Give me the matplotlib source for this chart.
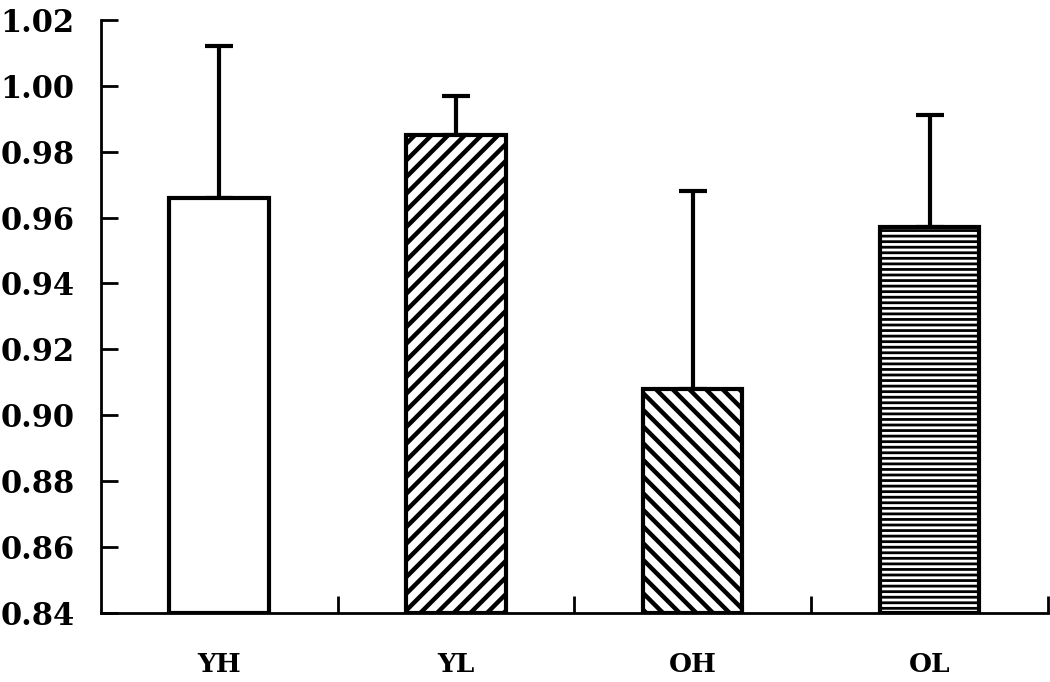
import numpy as np
import matplotlib
matplotlib.use("Agg")
import matplotlib.pyplot as plt

# values
groups = ["YH", "YL", "OH", "OL"]
means = [0.966, 0.985, 0.908, 0.957]
errors = [0.046, 0.012, 0.060, 0.034]
hatches = ["", "//", "\\\\", "---"]
hatch_widths = [1.0, 3.2, 3.2, 2.0]
yticks = [0.84, 0.86, 0.88, 0.90, 0.92, 0.94, 0.96, 0.98, 1.00, 1.02]

plt.rcParams["font.family"] = ["DejaVu Serif"]

fig = plt.figure(figsize=(10.5, 6.82), dpi=100)
ax = fig.add_axes([0.096, 0.101, 0.902, 0.870])

x = np.arange(len(groups))
for xi, m, e, h, hw in zip(x, means, errors, hatches, hatch_widths):
    with plt.rc_context({"hatch.linewidth": hw}):
        bars = ax.bar(xi, m - 0.84, bottom=0.84, width=0.42, color="white",
                      edgecolor="black", linewidth=3, hatch=h, zorder=2)
    for b in bars:
        if hasattr(b, "set_hatch_linewidth"):
            b.set_hatch_linewidth(hw)
    ax.errorbar(xi, m, yerr=[[0], [e]], fmt="none", ecolor="black",
                elinewidth=3, capsize=10, capthick=3, zorder=1)

ax.set_xlim(-0.5, 3.5)
ax.set_ylim(0.84, 1.02)
ax.spines["top"].set_visible(False)
ax.spines["right"].set_visible(False)
ax.spines["left"].set_linewidth(2)
ax.spines["bottom"].set_linewidth(2)

ax.set_yticks(yticks)
ax.set_yticklabels(["%.2f" % v for v in yticks], fontsize=22, fontweight="bold")
ax.tick_params(axis="y", direction="in", length=12, width=2, pad=19)

ax.set_xticks(x)
ax.set_xticklabels(groups, fontsize=19, fontweight="bold")
ax.tick_params(axis="x", which="major", length=0, pad=28)
ax.set_xticks(x + 0.5, minor=True)
ax.tick_params(axis="x", which="minor", direction="in", length=12, width=2)

fig.savefig("out.png", dpi=100)
